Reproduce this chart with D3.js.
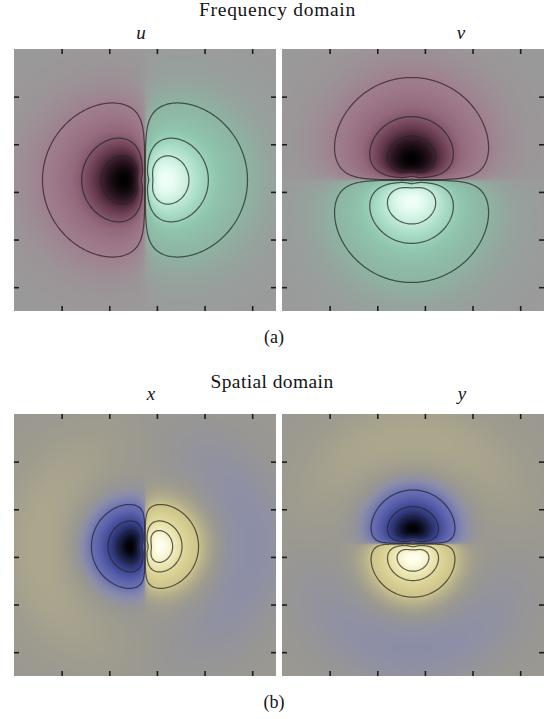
<!DOCTYPE html>
<html>
<head>
<meta charset="utf-8">
<script src="https://cdn.jsdelivr.net/npm/d3@7"></script>
<style>
  body { margin: 0; background: #fff; }
  text { font-family: "Liberation Serif", "Times New Roman", serif; fill: #141414; }
  .tick line { stroke: #1c1c1c; stroke-width: 1.6; }
</style>
</head>
<body>
<svg id="chart" width="550" height="719"></svg>
<script>
// titles and labels
const domainTitles = ['Frequency domain', 'Spatial domain'];
const subLabels = ['(a)', '(b)'];
const panelLabels = ['u', 'v', 'x', 'y'];
const tickValues = [1, 2, 3, 4, 5];
const extent = [0, 5.5];

// contour levels as fraction of the peak, drawn for both signs
const contourLevels = [0.1, 0.4, 0.7];

// lobe shape: [peak radius, radial exponent, lateral stretch, angular exponent]
const freqLobe = [0.44, 1, 0.93, 0.5];
const spatLobe = [0.315, 1.4, 0.93, 0.5];
// faint opposite-sign surround of the spatial filter: [ring radius, ring width, amplitude]
const spatRing = [2.2, 0.8, 0.03];

// which way each panel's lobes point: 0 = along x, 1 = along y (downward)
const lobeAxis = [0, 1, 0, 1];
const lobeCenter = [[2.75, 2.75], [2.72, 2.75], [2.75, 2.78], [2.75, 2.72]];

// colour maps
const freqStops = [-1, -0.8, -0.55, -0.3, -0.1, 0, 0.1, 0.3, 0.55, 0.8, 1];
const freqColors = ['#000000', '#2a1420', '#6a3c52', '#93687c', '#a07e8e', '#9a9a9a',
                    '#8db5a3', '#90c6ae', '#addfc9', '#d2f3e4', '#effff8'];
const spatStops = [-1, -0.8, -0.55, -0.3, -0.1, -0.03, 0, 0.03, 0.1, 0.3, 0.55, 0.8, 1];
const spatColors = ['#000000', '#151a40', '#2e3676', '#4a52a0', '#6a70b4', '#8c8ea8', '#9a9890',
                    '#aca78c', '#cdc48c', '#dcd496', '#ebe5b0', '#f7f4cf', '#fffff0'];

const size = 262;
const colX = [14, 282];
const rowY = [49, 414];
const N = 262;

const svg = d3.select('#chart');

function lobe(s, t, P) {
  const [s0, q, k, g] = P;
  const rho = Math.sqrt(s * s + (t / k) * (t / k));
  if (rho === 0) return 0;
  const x = rho / s0;
  const radial = x * Math.exp((1 - Math.pow(x, q)) / q);
  return Math.sign(s) * Math.pow(Math.abs(s) / rho, g) * radial;
}

function ring(s, t) {
  const [R, w, amp] = spatRing;
  const rho = Math.sqrt(s * s + t * t);
  if (rho === 0) return 0;
  return amp * (s / rho) * Math.exp(-Math.pow((rho - R) / w, 2));
}

function field(idx, px, py) {
  const [cx, cy] = lobeCenter[idx];
  const s = lobeAxis[idx] === 0 ? px - cx : py - cy;
  const t = lobeAxis[idx] === 0 ? py - cy : px - cx;
  if (idx < 2) return lobe(s, t, freqLobe);
  return lobe(s, t, spatLobe) - ring(s, t);
}

const sample = d3.scaleLinear().domain([0, N]).range(extent);
const xs = d3.scaleLinear().domain(extent).range([0, size]);
const ys = d3.scaleLinear().domain(extent).range([0, size]);
const contourPath = d3.geoPath(d3.geoIdentity().scale(size / N));

function panel(idx) {
  const row = Math.floor(idx / 2), col = idx % 2;
  const g = svg.append('g')
    .attr('transform', 'translate(' + colX[col] + ',' + rowY[row] + ')');

  const color = d3.scaleLinear()
    .domain(row === 0 ? freqStops : spatStops)
    .range(row === 0 ? freqColors : spatColors)
    .clamp(true);

  const values = new Float64Array(N * N);
  for (let j = 0; j < N; j++) {
    for (let i = 0; i < N; i++) {
      values[j * N + i] = field(idx, sample(i + 0.5), sample(j + 0.5));
    }
  }

  // heat map through a canvas, placed as an svg image
  const canvas = document.createElement('canvas');
  canvas.width = N; canvas.height = N;
  const ctx = canvas.getContext('2d');
  const img = ctx.createImageData(N, N);
  for (let k = 0; k < N * N; k++) {
    const c = d3.rgb(color(values[k]));
    img.data[4 * k] = c.r;
    img.data[4 * k + 1] = c.g;
    img.data[4 * k + 2] = c.b;
    img.data[4 * k + 3] = 255;
  }
  ctx.putImageData(img, 0, 0);
  g.append('image')
    .attr('href', canvas.toDataURL())
    .attr('width', size)
    .attr('height', size)
    .attr('preserveAspectRatio', 'none');

  const contours = d3.contours().size([N, N]).thresholds(contourLevels);
  const lines = contours(values).concat(contours(values.map(v => -v)));
  g.append('g')
    .selectAll('path')
    .data(lines)
    .enter().append('path')
    .attr('d', contourPath)
    .attr('fill', 'none')
    .attr('stroke', '#262626')
    .attr('stroke-opacity', 0.72)
    .attr('stroke-width', 1.25);

  // inward ticks on all four sides, no labels
  const axes = [
    [d3.axisTop(xs), ''],
    [d3.axisBottom(xs), 'translate(0,' + size + ')'],
    [d3.axisLeft(ys), ''],
    [d3.axisRight(ys), 'translate(' + size + ',0)']
  ];
  axes.forEach(([ax, tr]) => {
    g.append('g')
      .attr('transform', tr)
      .call(ax.tickValues(tickValues).tickSize(-5).tickFormat(''))
      .call(a => a.select('.domain').remove());
  });
}

d3.range(4).forEach(panel);

// titles
const titleX = [277.5, 272];
const titleY = [16, 388];
const labelY = [39, 400];
const labelX = [[141, 461], [151, 462]];
const subY = [343, 708];

domainTitles.forEach((t, r) => {
  svg.append('text')
    .attr('x', titleX[r]).attr('y', titleY[r])
    .attr('text-anchor', 'middle')
    .style('font-size', '19.5px')
    .style('letter-spacing', r === 0 ? '0.7px' : '0.4px')
    .text(t);
  svg.append('text')
    .attr('x', 274).attr('y', subY[r])
    .attr('text-anchor', 'middle')
    .style('font-size', '18px')
    .text(subLabels[r]);
  [0, 1].forEach(c => {
    svg.append('text')
      .attr('x', labelX[r][c]).attr('y', labelY[r])
      .attr('text-anchor', 'middle')
      .style('font-size', '19px')
      .style('font-style', 'italic')
      .text(panelLabels[r * 2 + c]);
  });
});
</script>
</body>
</html>
